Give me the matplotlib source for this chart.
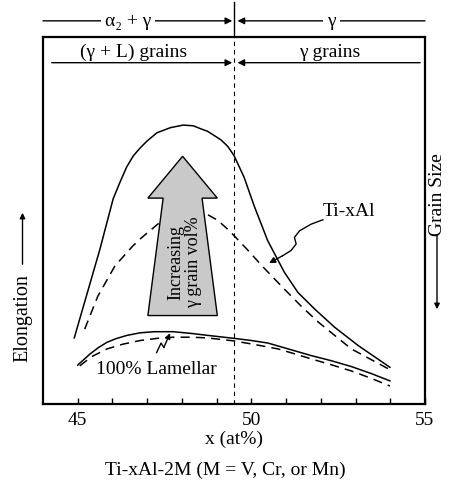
import numpy as np
import matplotlib
matplotlib.use("Agg")
import matplotlib.pyplot as plt
from matplotlib.patches import Polygon, FancyArrowPatch

plt.rcParams['font.family'] = ['Liberation Serif', 'DejaVu Serif']
plt.rcParams['font.size'] = 14

# Ti-xAl elongation, gamma grains (solid) and duplex (dashed)
x_tial = [44.9, 45.64, 46.02, 46.22, 46.41, 46.60, 46.80, 46.99, 47.28, 47.67,
          48.04, 48.33, 48.54, 48.74, 49.12, 49.32, 49.50, 49.79, 50.08, 50.47,
          50.95, 51.34, 51.82, 52.40, 53.08, 53.99]
y_tial = [18.0, 42.2, 55.9, 60.5, 64.6, 67.6, 69.8, 71.6, 73.9, 75.3,
          76.0, 75.8, 75.0, 74.3, 72.0, 70.2, 67.7, 61.8, 54.0, 44.5,
          35.9, 30.4, 25.9, 20.9, 15.9, 10.0]
x_tial_d = [45.20, 45.58, 46.07, 46.59, 46.80, 47.38, 47.80, 48.16, 48.45, 48.74,
            49.04, 49.32, 49.49, 49.89, 50.32, 50.95, 51.43, 51.93, 52.88, 53.96]
y_tial_d = [20.4, 29.4, 37.6, 43.1, 45.0, 49.6, 51.3, 52.2, 52.3, 51.6,
            50.0, 47.6, 46.0, 42.0, 37.5, 31.3, 26.7, 22.3, 15.0, 9.5]

# fully lamellar
x_lam = [45.0, 45.35, 45.6, 45.84, 46.1, 46.42, 46.8, 47.2, 47.75, 48.3,
         48.74, 49.49, 50.0, 50.48, 51.1, 51.72, 52.3, 52.88, 53.45, 53.99]
y_lam = [10.6, 13.6, 15.4, 16.8, 17.8, 18.7, 19.4, 19.7, 19.7, 19.2,
         18.7, 17.9, 17.3, 16.6, 14.9, 13.2, 11.8, 10.2, 8.3, 6.3]
x_lam_d = [45.06, 45.4, 45.84, 46.3, 46.8, 47.3, 47.75, 48.3, 48.74, 49.49,
           50.1, 50.77, 51.2, 51.72, 52.3, 52.88, 53.45, 53.99]
y_lam_d = [10.4, 12.9, 15.0, 16.3, 17.3, 17.9, 18.2, 18.2, 18.0, 17.2,
           16.2, 15.0, 13.8, 12.3, 10.7, 9.0, 7.0, 4.9]

x_border = 49.5
xtick_pos = list(range(45, 56))
xtick_lab = ['45', '', '', '', '', '50', '', '', '', '', '55']

fig = plt.figure(figsize=(4.5, 4.81), dpi=100)
ax = fig.add_axes([43 / 450, 76 / 481, 382 / 450, 367 / 481])
ax.set_xlim(44, 55)
ax.set_ylim(0, 100)

dash = (0, (6, 4))
ax.plot(x_tial, y_tial, color='k', lw=1.1)
ax.plot(x_tial_d, y_tial_d, color='k', lw=1.1, ls=dash)
ax.plot(x_lam, y_lam, color='k', lw=1.1)
ax.plot(x_lam_d, y_lam_d, color='k', lw=1.1, ls=dash)

# phase boundary
ax.axvline(x_border, color='k', lw=0.8, ls=(0, (4, 3.5)))
ax.plot([x_border, x_border], [100, 109.5], color='k', lw=1.0, clip_on=False)

# big shaded arrow
cx, tip, head, bottom = 48.02, 67.5, 56.1, 24.1
hw, sw_top, sw_bot = 1.0, 0.56, 1.0
arrow = Polygon([(cx, tip), (cx + hw, head), (cx + sw_top, head),
                 (cx + sw_bot, bottom), (cx - sw_bot, bottom),
                 (cx - sw_top, head), (cx - hw, head)],
                closed=True, facecolor='#c9c9c9', edgecolor='k', lw=1.0, zorder=3)
ax.add_patch(arrow)
ax.text(48.08, 38.9, 'Increasing\nγ grain vol%', rotation=90, ha='center', va='center',
        fontsize=13, linespacing=1.05, zorder=4)

# labels with leaders
ax.text(52.06, 52.6, 'Ti-xAl', ha='left', va='center')
ax.plot([52.06, 51.72, 51.39, 51.24, 51.29, 51.14, 50.90], [50.2, 49.0, 47.2, 45.4, 43.6, 41.8, 40.4],
        color='k', lw=1.0)
ax.annotate('', xy=(50.51, 38.4), xytext=(50.90, 40.4),
            arrowprops=dict(arrowstyle='-|>', color='k', lw=1.0, mutation_scale=9,
                            shrinkA=0, shrinkB=0))
ax.text(47.26, 9.8, '100% Lamellar', ha='center', va='center')
ax.plot([47.27, 47.40, 47.48], [14.0, 16.6, 15.4], color='k', lw=1.0)
ax.annotate('', xy=(47.66, 19.3), xytext=(47.48, 15.4),
            arrowprops=dict(arrowstyle='-|>', color='k', lw=1.0, mutation_scale=8,
                            shrinkA=0, shrinkB=0))

# region headers
def span(x0, x1, y):
    ax.annotate('', xy=(x1, y), xytext=(x0, y), annotation_clip=False,
                arrowprops=dict(arrowstyle='-|>', color='k', lw=1.0, mutation_scale=10,
                                shrinkA=0, shrinkB=0))

span(44.0, 49.45, 104.4)
span(55.0, 49.6, 104.4)
ax.text(46.45, 104.4, 'α₂ + γ', ha='center', va='center', clip_on=False,
        bbox=dict(facecolor='white', edgecolor='none', pad=3))
ax.text(52.3, 104.4, 'γ', ha='center', va='center', clip_on=False,
        bbox=dict(facecolor='white', edgecolor='none', pad=3))

span(44.25, 49.45, 93.0)
span(54.86, 49.6, 93.0)
ax.text(46.6, 96.0, '(γ + L) grains', ha='center', va='center')
ax.text(52.25, 96.0, 'γ grains', ha='center', va='center')

# axes styling
for s in ax.spines.values():
    s.set_linewidth(1.6)
ax.set_yticks([])
ax.set_xticks(xtick_pos)
ax.set_xticklabels(xtick_lab)
ax.tick_params(axis='x', direction='in', length=4, width=1.0, pad=5, labelsize=14)
ax.set_xlabel('x (at%)', labelpad=1)
fig.text(0.5, 1 - 470 / 481, 'Ti-xAl-2M (M = V, Cr, or Mn)', ha='center', va='center')

# side axis labels
fig.text(22.5 / 450, 1 - 318 / 481, 'Elongation', rotation=90, ha='center', va='center',
         fontsize=14.5)
fig.patches.append(FancyArrowPatch(
    (22.5 / 450, 1 - 268 / 481), (22.5 / 450, 1 - 211 / 481), transform=fig.transFigure,
    arrowstyle='-|>', mutation_scale=8, color='k', lw=1.0))
fig.text(437 / 450, 1 - 195 / 481, 'Grain Size', rotation=90, ha='center', va='center')
fig.patches.append(FancyArrowPatch(
    (437 / 450, 1 - 234 / 481), (437 / 450, 1 - 313 / 481), transform=fig.transFigure,
    arrowstyle='-|>', mutation_scale=8, color='k', lw=1.0))

fig.savefig('out.png', dpi=100, facecolor='white')
